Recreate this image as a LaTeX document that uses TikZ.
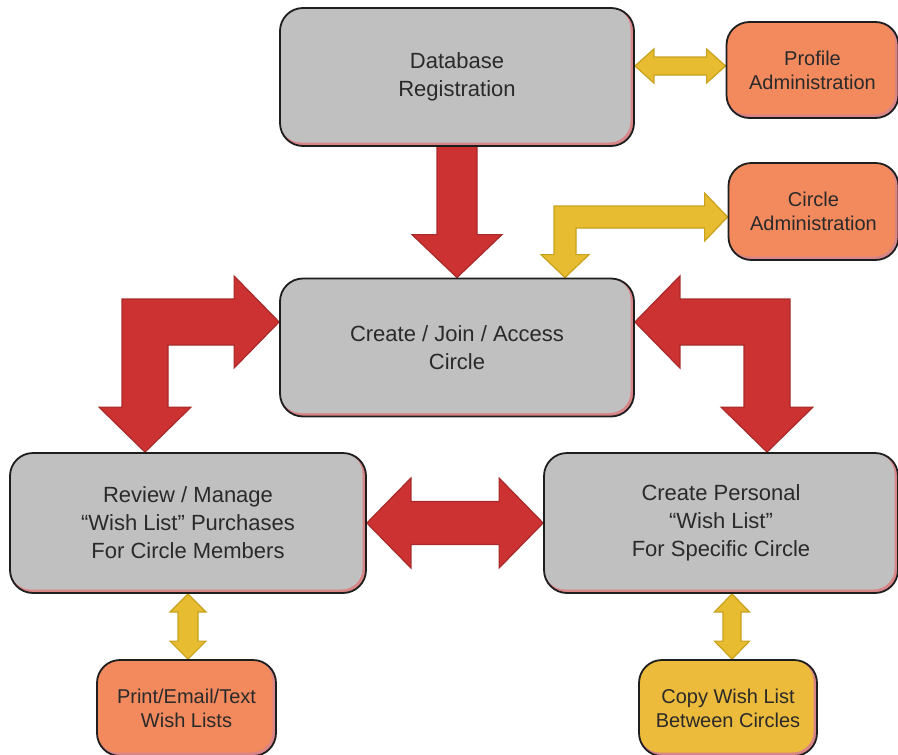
\documentclass[tikz,border=0pt]{standalone}
\usepackage{fontspec}
\setmainfont{Liberation Sans}
\usetikzlibrary{calc,backgrounds}

\definecolor{panelgray}{HTML}{C0C0C0}
\definecolor{panelshade}{HTML}{D88587}
\definecolor{edge}{HTML}{1E1E1E}
\definecolor{orangefill}{HTML}{F38A5E}
\definecolor{goldfill}{HTML}{EDBB3B}
\definecolor{redfill}{HTML}{CC3232}
\definecolor{redline}{HTML}{A82A2A}
\definecolor{yelfill}{HTML}{E8BC30}
\definecolor{yelline}{HTML}{C9A11E}
\definecolor{txt}{HTML}{2A2A2A}

\newcommand\paneltext{\fontsize{22}{28}\selectfont}
\newcommand\tagtext{\fontsize{20}{24}\selectfont}

% L-shaped block arrow: #2 horizontal tip, #3 vertical (downward) tip,
% #4 direction of the horizontal tip (+1 right, -1 left),
% #5 half shaft width, #6 half head width, #7 head length
\newcommand\elbowarrow[7]{%
  \coordinate (ec) at (#2 -| #3);
  \path[#1] (#2)
    -- ($(#2)+({-(#4)*(#7)},{-(#6)})$)
    -- ($(#2)+({-(#4)*(#7)},{-(#5)})$)
    -- ($(ec)+({-(#4)*(#5)},{-(#5)})$)
    -- ($(#3)+({-(#4)*(#5)},{-(#7)})$)
    -- ($(#3)+({-(#4)*(#6)},{-(#7)})$)
    -- (#3)
    -- ($(#3)+({(#4)*(#6)},{-(#7)})$)
    -- ($(#3)+({(#4)*(#5)},{-(#7)})$)
    -- ($(ec)+({(#4)*(#5)},{#5})$)
    -- ($(#2)+({-(#4)*(#7)},{#5})$)
    -- ($(#2)+({-(#4)*(#7)},{#6})$)
    -- cycle;}

% horizontal double-headed block arrow from tip #2 (left) to tip #3 (right)
\newcommand\hdblarrow[6]{%
  \path[#1] (#2)
    -- ($(#2)+(#6,-#5)$) -- ($(#2)+(#6,-#4)$)
    -- ($(#3)+(-#6,-#4)$) -- ($(#3)+(-#6,-#5)$)
    -- (#3)
    -- ($(#3)+(-#6,#5)$) -- ($(#3)+(-#6,#4)$)
    -- ($(#2)+(#6,#4)$) -- ($(#2)+(#6,#5)$)
    -- cycle;}

% vertical double-headed block arrow from tip #2 (top) to tip #3 (bottom)
\newcommand\vdblarrow[6]{%
  \path[#1] (#2)
    -- ($(#2)+(#5,#6)$) -- ($(#2)+(#4,#6)$)
    -- ($(#3)+(#4,-#6)$) -- ($(#3)+(#5,-#6)$)
    -- (#3)
    -- ($(#3)+(-#5,-#6)$) -- ($(#3)+(-#4,-#6)$)
    -- ($(#2)+(-#4,#6)$) -- ($(#2)+(-#5,#6)$)
    -- cycle;}

\tikzset{
  panel/.style={draw=edge, line width=1.8pt, rounded corners=23pt,
    fill=panelshade, align=center, text=txt, inner sep=0pt,
    path picture={\fill[#1, rounded corners=21pt]
      ([yshift=3.5pt]path picture bounding box.south west) rectangle
      ([xshift=-3.5pt]path picture bounding box.north east);}},
  bigpanel/.style={panel=panelgray, font=\paneltext,
    minimum width=354pt, minimum height=138pt},
  tagpanel/.style={panel=#1, font=\tagtext,
    minimum width=172pt, minimum height=96pt},
  redarrow/.style={fill=redfill, draw=redline, line width=1.2pt, line join=miter},
  yelarrow/.style={fill=yelfill, draw=yelline, line width=1.2pt, line join=miter},
}

\begin{document}
\begin{tikzpicture}[x=1pt, y=-1pt]
\useasboundingbox (0,0) rectangle (898,755);

% main process boxes
\node[bigpanel] (db) at (457,77) {Database\\Registration};
\node[bigpanel] (create) at (457,347.5) {Create / Join / Access\\Circle};
\node[bigpanel, minimum width=356pt, minimum height=140pt] (review) at (188,523)
  {Review / Manage\\“Wish List” Purchases\\For Circle Members};
\node[bigpanel, minimum height=140pt] (personal) at (721,523)
  {Create Personal\\“Wish List”\\For Specific Circle};

% side tasks
\node[tagpanel=orangefill] (prof) at (812.5,70) {Profile\\Administration};
\node[tagpanel=orangefill, minimum width=170pt, minimum height=97pt] (circ) at (813.5,211.5)
  {Circle\\Administration};
\node[tagpanel=orangefill, minimum width=179pt] (print) at (186.5,708)
  {Print/Email/Text\\Wish Lists};
\node[tagpanel=goldfill, minimum width=178pt] (copy) at (728,708)
  {Copy Wish List\\Between Circles};

\begin{scope}[on background layer]
  \fill[white] (0,0) rectangle (898,755);

  % registration leads into the circle step
  \coordinate (dbs) at (db.south);
  \coordinate (ctop) at (create.north);
  \path[redarrow] ($(dbs)+(-20,-4)$) -- ($(ctop)+(-20,-43)$) -- ($(ctop)+(-45,-43)$)
    -- (ctop) -- ($(ctop)+(45,-43)$) -- ($(ctop)+(20,-43)$) -- ($(dbs)+(20,-4)$) -- cycle;

  % circle step to and from the two list boxes
  \coordinate (lt) at ([yshift=25.5pt]create.west);
  \coordinate (lb) at ([xshift=-43pt]review.north);
  \elbowarrow{redarrow}{lt}{lb}{1}{23}{46}{45}
  \coordinate (rt) at ([yshift=25.5pt]create.east);
  \coordinate (rb) at ([xshift=46pt]personal.north);
  \elbowarrow{redarrow}{rt}{rb}{-1}{23}{46}{45}

  % between the two list boxes
  \hdblarrow{redarrow}{review.east}{personal.west}{21.5}{45}{44}

  % circle administration
  \coordinate (yt) at ([yshift=-5.5pt]circ.west);
  \coordinate (yb) at ([xshift=108pt]create.north);
  \elbowarrow{yelarrow}{yt}{yb}{1}{11}{24}{23}

  % profile administration
  \coordinate (pr) at ([yshift=4pt]prof.west);
  \coordinate (pl) at (db.east |- pr);
  \hdblarrow{yelarrow}{pl}{pr}{9}{17}{19}

  % printing and copying
  \coordinate (vt1) at (review.south);
  \coordinate (vb1) at (review.south |- print.north);
  \vdblarrow{yelarrow}{vt1}{vb1}{10}{18}{18}
  \coordinate (vb2) at ([xshift=4pt]copy.north);
  \coordinate (vt2) at (vb2 |- personal.south);
  \vdblarrow{yelarrow}{vt2}{vb2}{9}{17.5}{18}
\end{scope}
\end{tikzpicture}
\end{document}
